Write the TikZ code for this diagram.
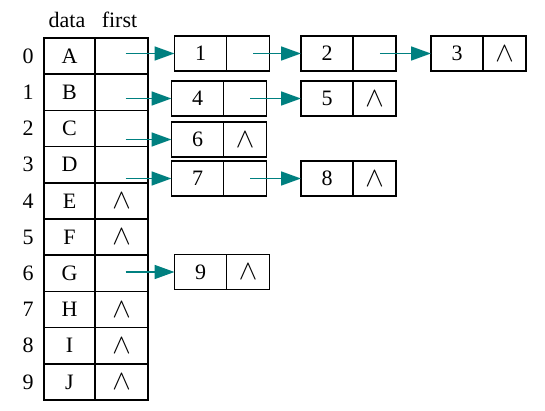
\documentclass[tikz,border=0pt]{standalone}
\usepackage{fontspec}
\setmainfont{Liberation Serif}
\usepackage{tikz}
\usetikzlibrary{arrows.meta,positioning}
\definecolor{Puntero}{RGB}{0,128,128}
\newcommand{\Nulo}{{\fontsize{22}{22}\selectfont$\wedge$}}

\tikzset{
  celda/.style={draw,line width=1.3pt,inner sep=0pt,outer sep=0pt,
    minimum height=27.15pt,font=\fontsize{16.5}{19}\selectfont},
  dato/.style={celda,minimum width=38.25pt},
  primero/.style={celda,minimum width=39.75pt},
  valor/.style={celda,minimum height=26.25pt,minimum width=39pt},
  enlace/.style={celda,minimum height=26.25pt,minimum width=32.25pt},
  etiqueta/.style={font=\fontsize{16.5}{19}\selectfont},
  flecha/.style={-{Triangle[length=15pt,width=10.5pt]},line width=1.3pt,Puntero}
}

\begin{document}
\begin{tikzpicture}[x=0.75pt,y=-0.75pt]
  \useasboundingbox (0,0) rectangle (545,410);
  % tabla de vertices
  \node[etiqueta] (hdata) at (67,20) {data};
  \node[etiqueta] (hfirst) at (119.5,20) {first};
  \foreach \i/\v/\nulo in {0/A/,1/B/,2/C/,3/D/,4/E/\Nulo,5/F/\Nulo,
                           6/G/,7/H/\Nulo,8/I/\Nulo,9/J/\Nulo} {
    \node[dato] (d\i) at (69.5,56.1+36.2*\i) {\v};
    \node[primero] (f\i) at (121.5,56.1+36.2*\i) {\nulo};
    \node[etiqueta] (k\i) at (28,56.1+36.2*\i) {\i};
  }
  % listas de arcos
  \node[valor] (n1) at (200.5,53.5) {1};
  \node[enlace,right=0pt of n1] (p1) {};
  \node[valor] (n2) at (327,53.5) {2};
  \node[enlace,right=0pt of n2] (p2) {};
  \node[valor] (n3) at (457,53.5) {3};
  \node[enlace,right=0pt of n3] (p3) {\Nulo};
  \node[valor] (n4) at (197.5,98.5) {4};
  \node[enlace,right=0pt of n4] (p4) {};
  \node[valor] (n5) at (327,98.5) {5};
  \node[enlace,right=0pt of n5] (p5) {\Nulo};
  \node[valor] (n6) at (197.5,139.5) {6};
  \node[enlace,right=0pt of n6] (p6) {\Nulo};
  \node[valor] (n7) at (197.5,178.5) {7};
  \node[enlace,right=0pt of n7] (p7) {};
  \node[valor] (n8) at (327,178.5) {8};
  \node[enlace,right=0pt of n8] (p8) {\Nulo};
  \node[valor] (n9) at (200.5,272) {9};
  \node[enlace,right=0pt of n9] (p9) {\Nulo};
  % punteros
  \draw[flecha] ([xshift=3pt]f0.center |- n1.west) -- (n1.west);
  \draw[flecha] ([xshift=3pt]f1.center |- n4.west) -- (n4.west);
  \draw[flecha] ([xshift=3pt]f2.center |- n6.west) -- (n6.west);
  \draw[flecha] ([xshift=3pt]f3.center |- n7.west) -- (n7.west);
  \draw[flecha] ([xshift=3pt]f6.center |- n9.west) -- (n9.west);
  \draw[flecha] ([xshift=4pt]p1.center) -- (n2.west);
  \draw[flecha] ([xshift=4pt]p2.center) -- (n3.west);
  \draw[flecha] ([xshift=4pt]p4.center) -- (n5.west);
  \draw[flecha] ([xshift=4pt]p7.center) -- (n8.west);
\end{tikzpicture}
\end{document}
